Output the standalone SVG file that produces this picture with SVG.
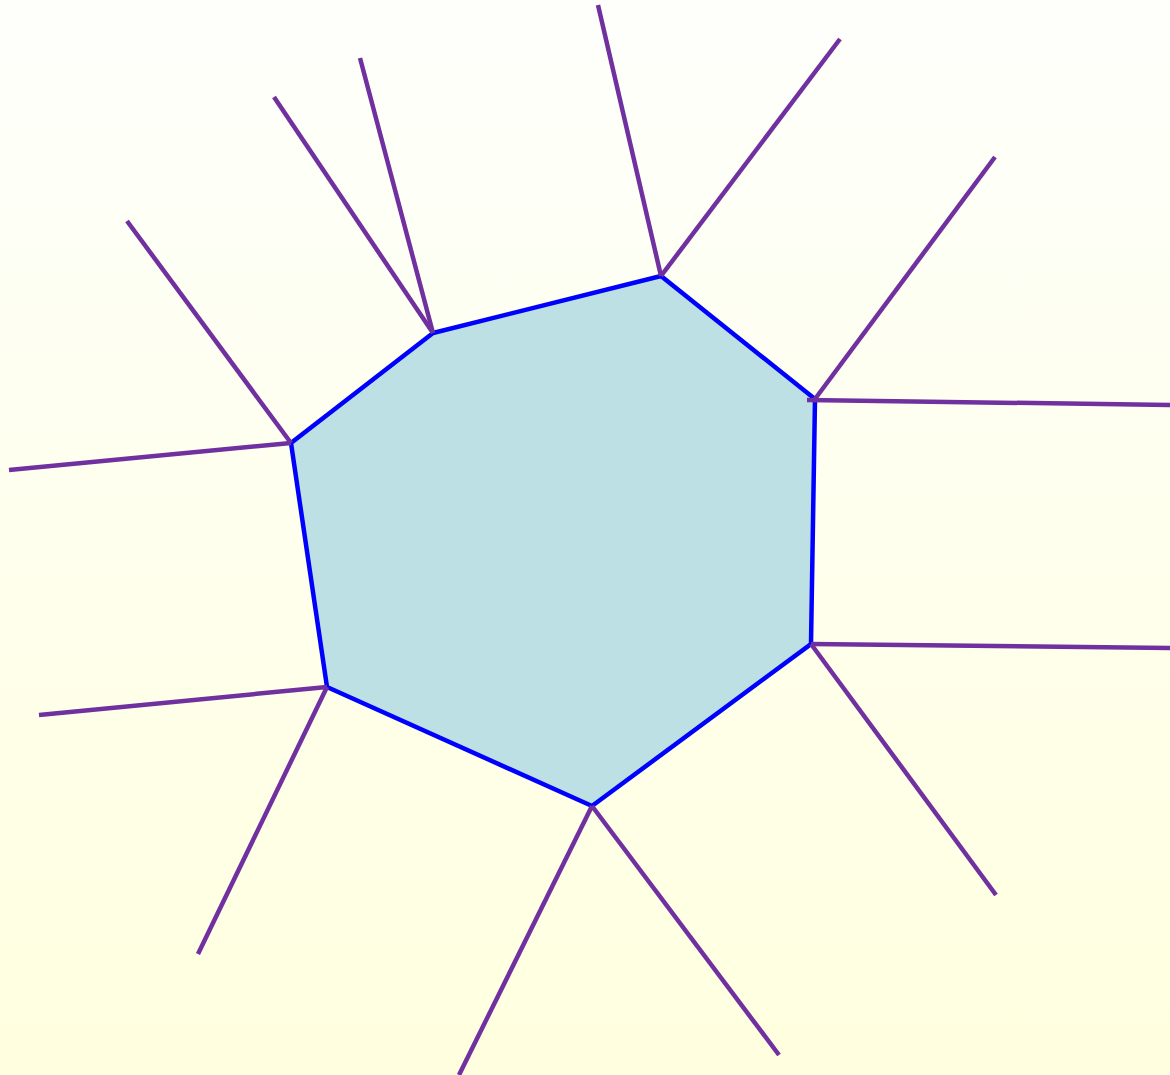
<svg xmlns="http://www.w3.org/2000/svg" width="1170" height="1075" viewBox="0 0 1170 1075">
<defs>
<linearGradient id="bg" x1="0" y1="0" x2="0" y2="1">
<stop offset="0" stop-color="#FEFFFB"/>
<stop offset="1" stop-color="#FFFFDF"/>
</linearGradient>
<style>
.poly{fill:#BCE0E4;stroke:#0000FF;stroke-width:4.5;stroke-linejoin:miter}
.ray{stroke:#7030A0;stroke-width:4.5;fill:none}
</style>
</defs>
<rect x="0" y="0" width="1170" height="1075" fill="url(#bg)"/>
<g id="cell">
<polygon class="poly" points="433,333 661,276 815,399 811,644 592,806 327,687 291,443"/>
</g>
<g id="connectors">
<line class="ray" x1="433" y1="333" x2="274" y2="97"/>
<line class="ray" x1="433" y1="333" x2="360" y2="58"/>
<line class="ray" x1="661" y1="276" x2="598" y2="5"/>
<line class="ray" x1="661" y1="276" x2="840" y2="39"/>
<line class="ray" x1="815" y1="399" x2="995" y2="157"/>
<line class="ray" x1="807" y1="400" x2="1172" y2="405"/>
<line class="ray" x1="811" y1="644" x2="1172" y2="648"/>
<line class="ray" x1="811" y1="644" x2="996" y2="895"/>
<line class="ray" x1="592" y1="806" x2="779" y2="1055"/>
<line class="ray" x1="592" y1="806" x2="459" y2="1075"/>
<line class="ray" x1="327" y1="687" x2="198" y2="954"/>
<line class="ray" x1="327" y1="687" x2="39" y2="715"/>
<line class="ray" x1="291" y1="443" x2="9" y2="470"/>
<line class="ray" x1="291" y1="443" x2="127" y2="221"/>
</g>
</svg>
